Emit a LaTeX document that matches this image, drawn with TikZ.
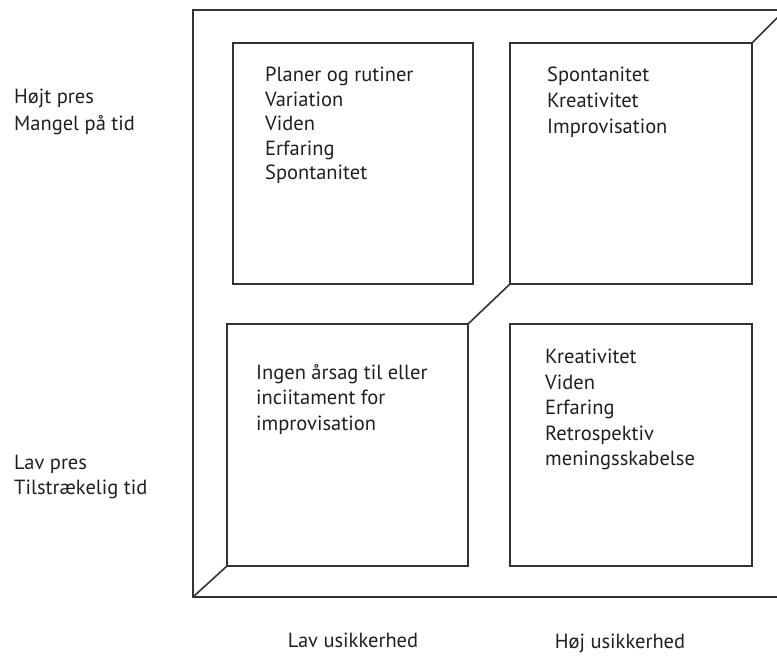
\documentclass[tikz,border=0pt]{standalone}
\usepackage{fontspec}
\setmainfont{PT Sans}
\begin{document}
\begin{tikzpicture}[x=1pt,y=-1pt,
  frame/.style={line width=1.6pt, draw=black!80},
  box/.style={frame, inner sep=0pt, outer sep=0pt, anchor=north west},
  txt/.style={align=left, anchor=north west, inner sep=0pt, text=black!88},
  lbl/.style={font=\fontsize{20.5}{25}\selectfont, inner sep=0pt, text=black!88}]
\useasboundingbox (0,0) rectangle (777,657);
\clip (0,0) rectangle (777,657);
\coordinate (otl) at (193,10);
\coordinate (otr) at (785,10);
\coordinate (obl) at (193,597);
\coordinate (obr) at (790,597);
\draw[frame] (otr) -- (otl) -- (obl) -- (obr);
\node[box, minimum width=240pt, minimum height=241pt] (tl) at (233,43) {};
\node[box, minimum width=242pt, minimum height=241pt] (tr) at (510,43) {};
\node[box, minimum width=241pt, minimum height=242pt] (bl) at (227,324) {};
\node[box, minimum width=242pt, minimum height=242pt] (br) at (510,324) {};
\draw[frame] (obl) -- (bl.south west);
\draw[frame] (bl.north east) -- (tr.south west);
\draw[frame] (tr.north east) -- (otr);
\node[txt, font=\fontsize{20.5}{24.5}\selectfont] (ttl) at (265,67) {Planer og rutiner\\Variation\\Viden\\Erfaring\\Spontanitet};
\node[txt, font=\fontsize{20.5}{26}\selectfont] (ttr) at (547,67) {Spontanitet\\Kreativitet\\Improvisation};
\node[txt, font=\fontsize{20.5}{25.5}\selectfont] (tbl) at (256,364) {Ingen årsag til eller\\inciitament for\\improvisation};
\node[txt, font=\fontsize{20.5}{25.5}\selectfont] (tbr) at (545,349) {Kreativitet\\Viden\\Erfaring\\Retrospektiv\\meningsskabelse};
\node[txt, font=\fontsize{20.5}{26.5}\selectfont] (lhi) at (14,89) {Højt pres\\Mangel på tid};
\node[txt, font=\fontsize{20.5}{25}\selectfont] (llo) at (14,455) {Lav pres\\Tilstrækelig tid};
\node[lbl] (blo) at (353,640) {Lav usikkerhed};
\node[lbl] (bhi) at (620,643) {Høj usikkerhed};
\end{tikzpicture}
\end{document}
